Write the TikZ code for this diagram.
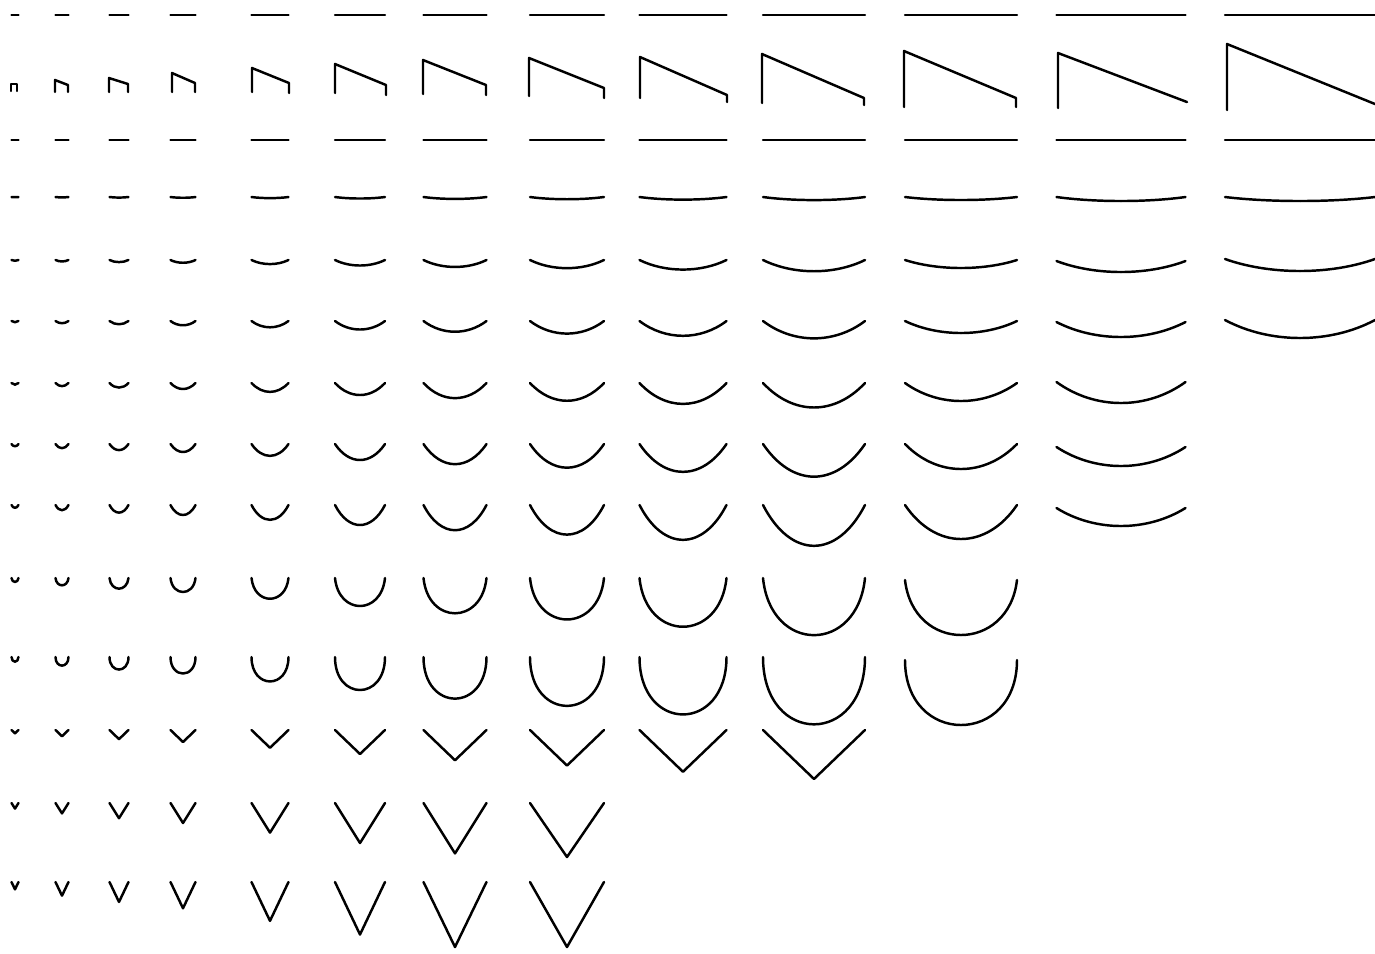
\documentclass[tikz,border=0pt]{standalone}
\usetikzlibrary{calc}

\newcommand{\bowl}[5]{\draw[stroke] ({#1-#3/2},#2) .. controls ({#1-#5*#3/2},{#2+4/3*(#4)}) and ({#1+#5*#3/2},{#2+4/3*(#4)}) .. ({#1+#3/2},#2);}

\begin{document}
\begin{tikzpicture}[x=0.01cm, y=-0.01cm, stroke/.style={line width=0.7pt, line cap=round, line join=round}]
\useasboundingbox (0,0) rectangle (1375,953);
\foreach \y in {15,140}
  \foreach \cx/\w in {15/7,62/13,119/19,183/25,270/37,360/50,455/63,567/74,683/87,814/102,961/112,1121/129,1300/150}
    {\draw[stroke] ({\cx-\w/2},\y) -- ({\cx+\w/2},\y);}
\foreach \l/\t/\b/\r/\rt/\rb in {11/84/91/17/84/91,55/80/92/68/85/92,109/78/92/128/84/92,172/73/92/195/83/92,252/68/92/289/83/93,335/64/93/386/85/95,423/60/94/486/85/95,529/58/96/604/88/98,640/57/98/727/95/102,762/54/103/864/98/105,904/51/107/1016/98/107,1058/53/108/1187/102/102,1227/44/110/1375/104/104}
  {\draw[stroke] (\l,\b) -- (\l,\t) -- (\r,\rt) -- (\r,\rb);}
\foreach \y/\k/\c in {197/0.03/0.4,260/0.11/0.4,321/0.17/0.4,383/0.24/0.4,444/0.32/0.42,505/0.4/0.45,578/0.56/0.85,657/0.66/1}
  \foreach \cx/\w in {15/7,62/13,119/19,183/25,270/37,360/50,455/63,567/74,683/87,814/102}
    {\bowl{\cx}{\y}{\w}{\k*\w}{\c}}
\foreach \y/\d/\c in {197/3/0.4,260/8/0.4,321/12/0.4,383/18/0.4,444/25/0.42,505/34/0.45,580/55/0.85,660/65/1}
  {\bowl{961}{\y}{112}{\d}{\c}}
\foreach \y/\d in {197/4,261/11,322/15,382/21,447/19,508/18}
  {\bowl{1121}{\y}{129}{\d}{0.4}}
\foreach \y/\d in {197/4,259/12,320/18}
  {\bowl{1300}{\y}{150}{\d}{0.4}}
\foreach \cx/\w in {15/7,62/13,119/19,183/25,270/37,360/50,455/63,567/74,683/87,814/102}
  {\draw[stroke] ({\cx-\w/2},730) -- (\cx,{730+0.48*\w}) -- ({\cx+\w/2},730);}
\foreach \y/\k/\m in {803/0.8/54,882/1.05/65}
  \foreach \cx/\w in {15/7,62/13,119/19,183/25,270/37,360/50,455/63,567/74}
    {\draw[stroke] ({\cx-\w/2},\y) -- (\cx,{\y+min(\k*\w,\m)}) -- ({\cx+\w/2},\y);}
\end{tikzpicture}
\end{document}
